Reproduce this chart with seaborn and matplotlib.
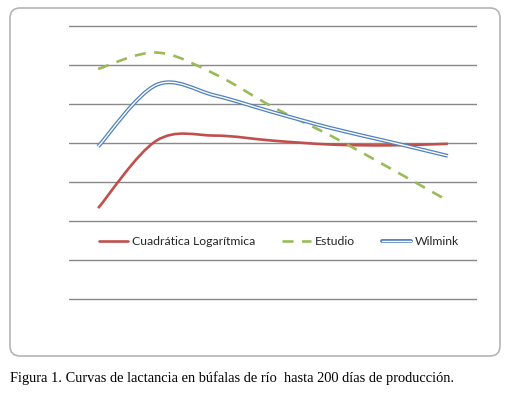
import numpy as np
import pandas as pd
import matplotlib
matplotlib.use("Agg")
import matplotlib.pyplot as plt
import seaborn as sns
from matplotlib.path import Path
from matplotlib.patches import PathPatch, FancyBboxPatch
from matplotlib.lines import Line2D

# Lactation curve values (7 control points, no axis labels shown)
periodos = ["P1", "P2", "P3", "P4", "P5", "P6", "P7"]
cuadratica = [2.33, 4.06, 4.19, 4.06, 3.96, 3.94, 3.98]
estudio = [5.90, 6.32, 5.77, 4.92, 4.18, 3.36, 2.52]
wilmink = [3.91, 5.49, 5.22, 4.79, 4.38, 4.03, 3.67]

ROJO = "#C0504D"
VERDE = "#9BBB59"
AZUL = "#4F81BD"


def smooth_path(xs, ys):
    # Excel-style smoothed line: bezier segments through the data points
    pts = np.column_stack([xs, ys]).astype(float)
    n = len(pts)
    verts = [pts[0]]
    codes = [Path.MOVETO]
    for i in range(n - 1):
        p0 = pts[max(i - 1, 0)]
        p1 = pts[i]
        p2 = pts[i + 1]
        p3 = pts[min(i + 2, n - 1)]
        verts += [p1 + (p2 - p0) / 6, p2 - (p3 - p1) / 6, p2]
        codes += [Path.CURVE4] * 3
    return Path(verts, codes)


sns.set_theme(style="white")
plt.rcParams["font.family"] = ["Lato", "DejaVu Sans"]

fig = plt.figure(figsize=(5.1, 3.93), dpi=100)
# axes a bit taller than the grid so the bottom gridline is not clipped
ax = fig.add_axes([69 / 510, (393 - 301) / 393, 408 / 510, 277 / 393])

x = np.arange(len(periodos))
ax.set_xlim(-0.5, len(periodos) - 0.5)
ax.set_ylim(-2 / 39, 7 + 2 / 39)
ax.set_yticks(range(0, 8))
ax.set_xticks([])
ax.yaxis.grid(True, color="#898989", lw=1.0)
ax.tick_params(left=False, labelleft=False)
sns.despine(ax=ax, left=True, bottom=True, top=True, right=True)

ax.add_patch(PathPatch(smooth_path(x, cuadratica), fill=False, edgecolor=ROJO,
                       lw=1.9, capstyle="butt"))
ax.add_patch(PathPatch(smooth_path(x, estudio), fill=False, edgecolor=VERDE,
                       lw=1.9, linestyle=(0, (4.2, 3.2)), capstyle="butt"))
ax.add_patch(PathPatch(smooth_path(x, wilmink), fill=False, edgecolor=AZUL,
                       lw=2.8))
ax.add_patch(PathPatch(smooth_path(x, wilmink), fill=False, edgecolor="white",
                       lw=1.0))

h_rojo = Line2D([], [], color=ROJO, lw=1.9)
h_verde = Line2D([], [], color=VERDE, lw=1.9, linestyle=(0, (4.2, 3.2)))
h_azul = (Line2D([], [], color=AZUL, lw=2.8), Line2D([], [], color="white", lw=1.0))
fig.legend([h_rojo, h_verde, h_azul], ["Cuadrática Logarítmica", "Estudio", "Wilmink"],
           loc="center", bbox_to_anchor=(279 / 510, 1 - 242 / 393), ncol=3,
           frameon=False, fontsize=8.8, handlelength=2.4, handletextpad=0.3,
           columnspacing=2.2, borderpad=0)

# rounded chart border
fig.patches.append(FancyBboxPatch((0.10, 0.37), 4.9, 3.48,
                                  boxstyle="round,pad=0,rounding_size=0.1",
                                  transform=fig.dpi_scale_trans, fill=False,
                                  edgecolor="#B5B5B5", lw=1.2))

fig.text(10 / 510, 1 - 378 / 393,
         "Figura 1. Curvas de lactancia en búfalas de río  hasta 200 días de producción.",
         family=["Liberation Serif"], fontsize=10.4, va="center", ha="left", color="black")

fig.savefig("out.png", dpi=100)
